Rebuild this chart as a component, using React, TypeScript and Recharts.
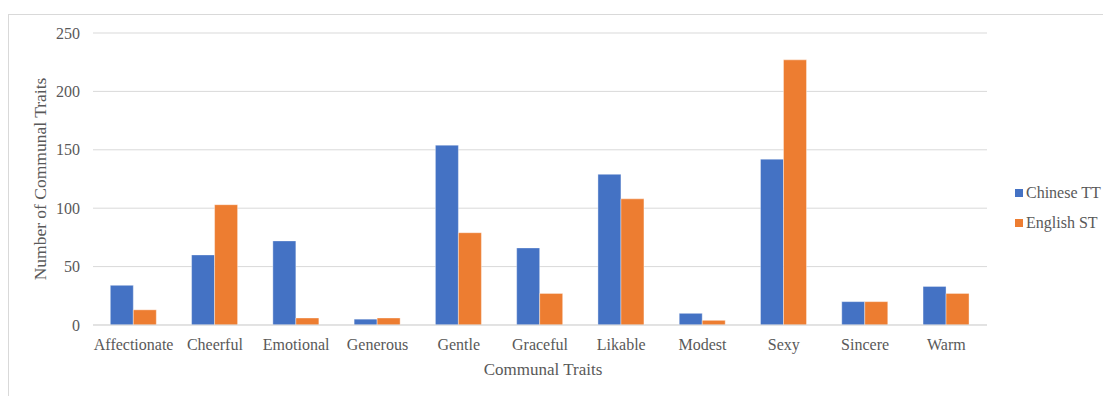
import React from 'react';
import { BarChart, Bar, XAxis, YAxis, CartesianGrid, Legend, Label } from 'recharts';

const categories = ['Affectionate', 'Cheerful', 'Emotional', 'Generous', 'Gentle', 'Graceful', 'Likable', 'Modest', 'Sexy', 'Sincere', 'Warm'];
const chineseTT = [34, 60, 72, 5, 154, 66, 129, 10, 142, 20, 33];
const englishST = [13, 103, 6, 6, 79, 27, 108, 4, 227, 20, 27];
const yTicks = [0, 50, 100, 150, 200, 250];
const seriesNames = ['Chinese TT', 'English ST'];
const colors = ['#4472C4', '#ED7D31'];

const data = categories.map((c, i) => ({ name: c, chinese: chineseTT[i], english: englishST[i] }));

const FONT = '"Liberation Serif", "Times New Roman", serif';
const TEXT = '#595959';

const LegendContent = () => (
  <div style={{ fontFamily: FONT, fontSize: 16, color: TEXT }}>
    {seriesNames.map((n, i) => (
      <div key={n} style={{ display: 'flex', alignItems: 'center', height: 30 }}>
        <span style={{ display: 'inline-block', width: 8, height: 8, background: colors[i], marginRight: 3 }} />
        <span>{n}</span>
      </div>
    ))}
  </div>
);

export default function App() {
  return (
    <div style={{ marginTop: 6, width: 1096, height: 400, border: '1px solid #d9d9d9', position: 'relative', background: '#fff' }}>
      <BarChart
        width={1096}
        height={380}
        data={data}
        margin={{ top: 18, right: 18, bottom: 10, left: 24 }}
        barCategoryGap="21.3%"
        barGap={0}
      >
        <CartesianGrid vertical={false} stroke="#d9d9d9" strokeWidth={1} />
        <XAxis
          dataKey="name"
          axisLine={{ stroke: '#d9d9d9' }}
          tickLine={false}
          tickSize={0}
          tickMargin={14}
          height={60}
          interval={0}
          tick={{ fill: TEXT, fontSize: 16, fontFamily: FONT }}
        >
          <Label
            content={({ viewBox }: any) => (
              <text
                x={viewBox.x + viewBox.width / 2 + 3}
                y={viewBox.y + 50}
                textAnchor="middle"
                fill={TEXT}
                fontSize={17}
                fontFamily={FONT}
              >
                Communal Traits
              </text>
            )}
          />
        </XAxis>
        <YAxis
          domain={[0, 250]}
          ticks={yTicks}
          axisLine={false}
          tickLine={false}
          tickSize={0}
          tickMargin={13}
          width={60}
          tick={{ fill: TEXT, fontSize: 16, fontFamily: FONT }}
        >
          <Label
            content={({ viewBox }: any) => {
              const cx = 31;
              const cy = viewBox.y + viewBox.height / 2;
              return (
                <text
                  x={cx}
                  y={cy}
                  transform={`rotate(-90, ${cx}, ${cy})`}
                  textAnchor="middle"
                  dominantBaseline="central"
                  fill={TEXT}
                  fontSize={17.5}
                  fontFamily={FONT}
                >
                  Number of Communal Traits
                </text>
              );
            }}
          />
        </YAxis>
        <Legend
          layout="vertical"
          align="right"
          verticalAlign="middle"
          content={<LegendContent />}
          wrapperStyle={{ position: 'absolute', left: 1006, top: 163, width: 100 }}
        />
        <Bar dataKey="chinese" name={seriesNames[0]} fill={colors[0]} stroke="#ffffff" strokeOpacity={0.5} strokeWidth={0.75} isAnimationActive={false} />
        <Bar dataKey="english" name={seriesNames[1]} fill={colors[1]} stroke="#ffffff" strokeOpacity={0.5} strokeWidth={0.75} isAnimationActive={false} />
      </BarChart>
    </div>
  );
}
